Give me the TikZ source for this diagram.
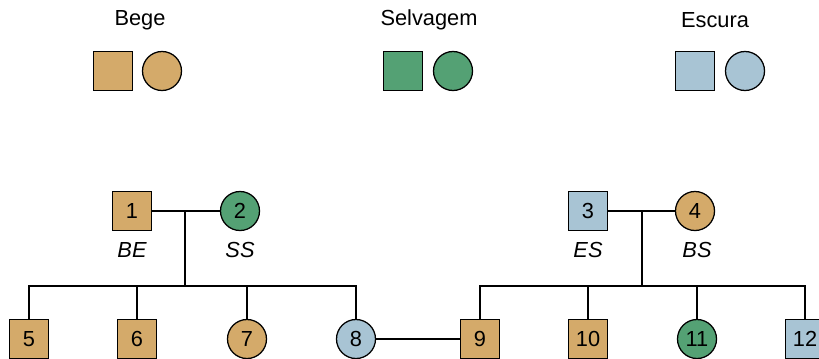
\documentclass[tikz,border=0pt]{standalone}
\usepackage{fontspec}
\setmainfont{Liberation Sans}
\usetikzlibrary{positioning,calc}
\definecolor{bege}{RGB}{212,170,106}
\definecolor{selvagem}{RGB}{84,161,116}
\definecolor{escura}{RGB}{168,196,212}

\begin{document}
\begin{tikzpicture}[x=0.025cm,y=-0.025cm,
      macho/.style={rectangle,minimum size=0.975cm,inner sep=0pt,draw=black,
        line width=0.9pt,font=\fontsize{15.5}{17}\selectfont},
      femea/.style={circle,minimum size=0.975cm,inner sep=0pt,draw=black,
        line width=0.9pt,font=\fontsize{15.5}{17}\selectfont},
      geno/.style={font=\fontsize{15.5}{17}\selectfont\itshape},
      titulo/.style={font=\fontsize{15.5}{17}\selectfont},
      liga/.style={line width=0.9pt}
    ]
    \useasboundingbox (0,0) rectangle (819,358);
    \clip (0,0) rectangle (819,358);

    % Legenda das cores
    \node[titulo] (tB) at (140,20) {Bege};
    \node[titulo] (tS) at (429,20) {Selvagem};
    \node[titulo] (tE) at (715,20) {Escura};
    \foreach \c/\xq/\xc in {bege/113/162,selvagem/403/453,escura/695/745}{
      \node[macho,fill=\c] (lq-\c) at (\xq,71) {};
      \node[femea,fill=\c] (lc-\c) at (\xc,71) {};
    }

    % Geração I
    \node[macho,fill=bege] (i1) at (132,211) {1};
    \node[femea,fill=selvagem] (i2) at (240,211) {2};
    \node[macho,fill=escura] (i3) at (588,211) {3};
    \node[femea,fill=bege] (i4) at (695,211) {4};
    \node[geno] (g1) at (132,250) {BE};
    \node[geno] (g2) at (240,250) {SS};
    \node[geno] (g3) at (588,250) {ES};
    \node[geno] (g4) at (697,250) {BS};

    % Geração II
    \node[macho,fill=bege] (i5) at (29,339) {5};
    \node[macho,fill=bege] (i6) at (137,339) {6};
    \node[femea,fill=bege] (i7) at (247,339) {7};
    \node[femea,fill=escura] (i8) at (356,339) {8};
    \node[macho,fill=bege] (i9) at (480,339) {9};
    \node[macho,fill=bege] (i10) at (588,339) {10};
    \node[femea,fill=selvagem] (i11) at (697,339) {11};
    \node[macho,fill=escura] (i12) at (805,339) {12};

    % Casais e descendência
    \coordinate (m1) at (185,211);
    \coordinate (m2) at (642,211);
    \coordinate (f1) at (m1 |- 0,286);
    \coordinate (f2) at (m2 |- 0,286);
    \draw[liga] (i1) -- (i2);
    \draw[liga] (i3) -- (i4);
    \draw[liga] (m1) -- (f1);
    \draw[liga] (m2) -- (f2);
    \draw[liga] (i5.north) |- (f1) -| (i8.north);
    \draw[liga] (i9.north) |- (f2) -| (i12.north);
    \foreach \k/\f in {6/f1,7/f1,10/f2,11/f2}{
      \draw[liga] (i\k.north) -- (i\k.north |- \f);
    }
    \draw[liga] (i8) -- (i9);
  \end{tikzpicture}
\end{document}
